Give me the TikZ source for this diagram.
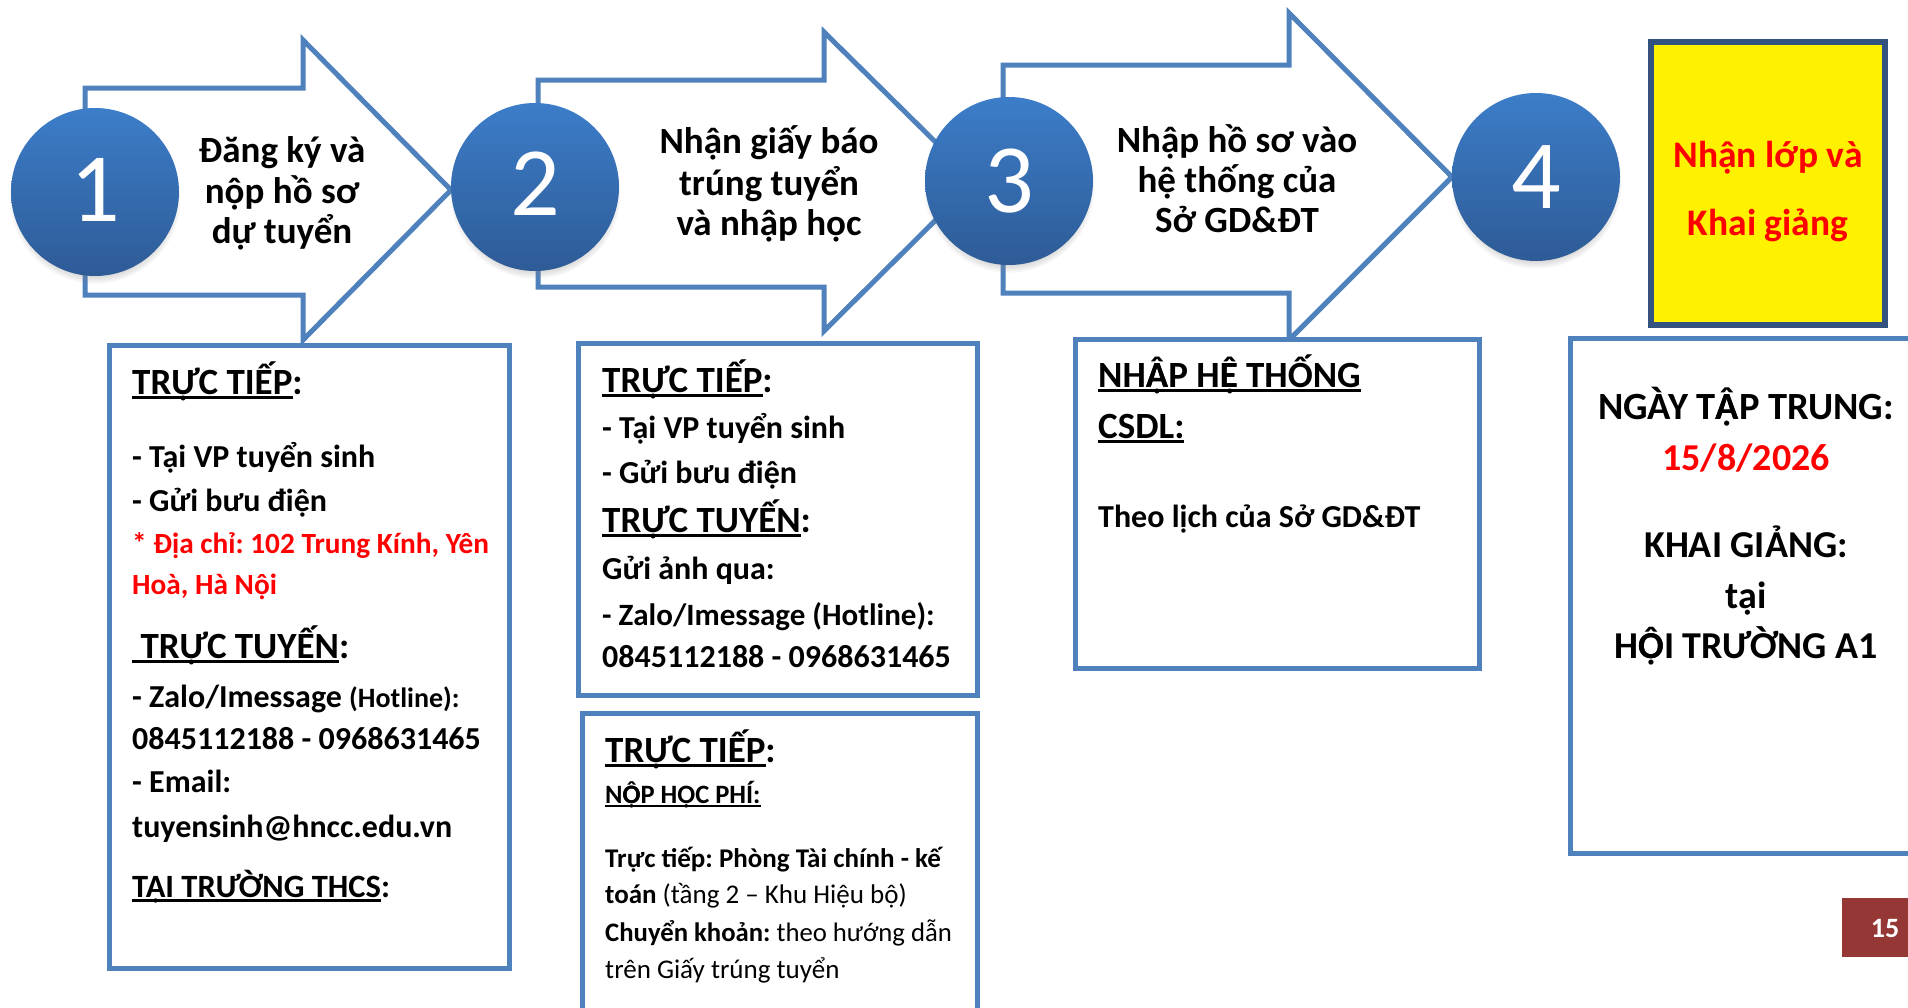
\documentclass[tikz,border=0pt]{standalone}
\usepackage{fontspec}
\setmainfont{Carlito}
\usetikzlibrary{shadows}
\definecolor{ablue}{RGB}{79,129,189}
\definecolor{ctop}{RGB}{60,125,201}
\definecolor{cbot}{RGB}{46,91,150}
\definecolor{ynavy}{RGB}{52,82,128}
\definecolor{pred}{RGB}{149,55,53}
\definecolor{tred}{RGB}{255,0,0}
\newcommand\myul[1]{\setbox0=\hbox{#1}\rlap{\rule[-0.14em]{\wd0}{0.075em}}\box0}
\newcommand\vAcd{\ooalign{Ạ\cr Â\cr}}
\newcommand\vEcd{\ooalign{Ẹ\cr Ê\cr}}
\newcommand\vOcd{\ooalign{Ọ\cr Ô\cr}}
\tikzset{
  flow/.style={draw=ablue, line width=5pt, fill=white, line join=miter},
  stepcircle/.style={circle, minimum size=168pt, inner sep=0pt, top color=ctop, bottom color=cbot, draw=none, text=white,
     font=\fontsize{98}{98}\selectfont,
     circular drop shadow={shadow xshift=0pt, shadow yshift=-6pt, shadow scale=1.02, opacity=0.45}},
  panel/.style={draw=ablue, line width=5pt, fill=white, rectangle, inner sep=0pt, outer sep=0pt, anchor=north west},
  ln/.style={anchor=base west, inner sep=0pt, font=\bfseries\fontsize{32}{36}\selectfont},
  redln/.style={anchor=base west, inner sep=0pt, text=tred, font=\bfseries\fontsize{29.3}{34}\selectfont},
  hd/.style={anchor=base west, inner sep=0pt, font=\bfseries\fontsize{37}{40}\selectfont},
  sm/.style={anchor=base west, inner sep=0pt, font=\fontsize{27}{30}\selectfont},
  ctr/.style={anchor=base, inner sep=0pt, font=\bfseries\fontsize{37}{40}\selectfont},
  big/.style={anchor=base, inner sep=0pt, font=\bfseries\fontsize{38}{40}\selectfont},
}
\begin{document}
\frenchspacing
\begin{tikzpicture}[x=1pt, y=-1pt]
\useasboundingbox (0,0) rectangle (1908,1007);
\clip (0,0) rectangle (1908,1007);
\fill[white] (0,0) rectangle (1908,1007);

% arrows
\draw[flow] (85,88) -- (303,88) -- (303,40) -- (451,190) -- (303,340) -- (303,295) -- (85,295) -- cycle;
\draw[flow] (538,80) -- (824,80) -- (824,32) -- (975,181) -- (824,331) -- (824,287) -- (538,287) -- cycle;
\draw[flow] (1003,65) -- (1289,65) -- (1289,13) -- (1452,177) -- (1289,340) -- (1289,293) -- (1003,293) -- cycle;

% arrow texts
\node[ctr] (a1a) at (282,162) {Đăng ký và};
\node[ctr] (a1b) at (282,203) {nộp hồ sơ};
\node[ctr] (a1c) at (282,243) {dự tuyển};
\node[ctr] (a2a) at (769,153) {Nhận giấy báo};
\node[ctr] (a2b) at (769,195) {trúng tuyển};
\node[ctr] (a2c) at (769,235) {và nhập học};
\node[ctr] (a3a) at (1237,152) {Nhập hồ sơ vào};
\node[ctr] (a3b) at (1237,192) {hệ thống của};
\node[ctr] (a3c) at (1237,232) {Sở GD\&ĐT};

% circles
\node[stepcircle] (c1) at (95,192) {\raisebox{5pt}{1}};
\node[stepcircle] (c2) at (535,187) {\raisebox{6pt}{2}};
\node[stepcircle] (c3) at (1009,181) {3};
\node[stepcircle] (c4) at (1536,177) {4};

% yellow box
\node[draw=ynavy, line width=6pt, fill=yellow, rectangle, inner sep=0pt, outer sep=0pt, anchor=north west,
      minimum width=234pt, minimum height=283pt] (yb) at (1651,42) {};
\node[ctr, font=\bfseries\fontsize{37.5}{40}\selectfont, text=tred] (y1) at (1768,167) {Nhận lớp và};
\node[ctr, font=\bfseries\fontsize{37.5}{40}\selectfont, text=tred] (y2) at (1768,235) {Khai giảng};

% panel 1
\node[panel, minimum width=400pt, minimum height=623pt] (p1) at (109,345) {};
\node[hd] (p1a) at (132,394) {\myul{TRỰC TIẾP}:};
\node[ln] (p1b) at (132,467) {- Tại VP tuyển sinh};
\node[ln] (p1c) at (132,511) {- Gửi bưu điện};
\node[redln] (p1d) at (132,553) {* Địa chỉ: 102 Trung Kính, Yên};
\node[redln] (p1e) at (132,594) {Hoà, Hà Nội};
\node[hd] (p1f) at (132,658) {\myul{\ TRỰC TUYẾN}:};
\node[ln] (p1g) at (132,707) {- Zalo/Imessage {\fontsize{28}{30}\selectfont(Hotline):}};
\node[ln] (p1h) at (132,749) {0845112188 - 0968631465};
\node[ln] (p1i) at (132,792) {- Email:};
\node[ln] (p1j) at (132,837) {tuyensinh@hncc.edu.vn};
\node[ln, font=\bfseries\fontsize{32.5}{36}\selectfont] (p1k) at (132,897) {\myul{TẠI TRƯỜNG THCS}:};

% panel 2
\node[panel, minimum width=399pt, minimum height=352pt] (p2) at (578,343) {};
\node[hd] (p2a) at (602,392) {\myul{TRỰC TIẾP}:};
\node[ln] (p2b) at (602,438) {- Tại VP tuyển sinh};
\node[ln] (p2c) at (602,483) {- Gửi bưu điện};
\node[hd] (p2d) at (602,532) {\myul{TRỰC TUYẾN}:};
\node[ln] (p2e) at (602,579) {Gửi ảnh qua:};
\node[ln, font=\bfseries\fontsize{31}{36}\selectfont] (p2f) at (602,625) {- Zalo/Imessage (Hotline):};
\node[ln] (p2g) at (602,667) {0845112188 - 0968631465};

% panel 2b
\node[panel, minimum width=395pt, minimum height=320pt] (p3) at (582,713) {};
\node[hd] (p3a) at (605,762) {\myul{TRỰC TIẾP}:};
\node[sm, font=\bfseries\fontsize{26.5}{30}\selectfont] (p3b) at (605,803) {\myul{N\vOcd P HỌC PHÍ:}};
\node[sm] (p3c) at (605,867) {\textbf{Trực tiếp: Phòng Tài chính - kế}};
\node[sm] (p3d) at (605,903) {\textbf{toán} (tầng 2 – Khu Hiệu bộ)};
\node[sm, font=\fontsize{26.7}{30}\selectfont] (p3e) at (605,941) {\textbf{Chuyển khoản:} theo hướng dẫn};
\node[sm] (p3f) at (605,978) {trên Giấy trúng tuyển};

% panel 3
\node[panel, minimum width=404pt, minimum height=329pt] (p4) at (1075,339) {};
\node[hd] (p4a) at (1098,387) {\myul{NH\vAcd P H\vEcd\ THỐNG}};
\node[hd] (p4b) at (1098,438) {\myul{CSDL:}};
\node[ln] (p4c) at (1098,527) {Theo lịch của Sở GD\&ĐT};

% panel 4
\node[panel, minimum width=360pt, minimum height=515pt] (p5) at (1570,338) {};
\node[big, font=\bfseries\fontsize{38.5}{40}\selectfont] (p5a) at (1746,419) {NGÀY T\vAcd P TRUNG:};
\node[big, text=tred] (p5b) at (1746,470) {15/8/2026};
\node[big] (p5c) at (1746,557) {KHAI GIẢNG:};
\node[big] (p5d) at (1746,608) {tại};
\node[big] (p5e) at (1746,658) {H\vOcd I TRƯỜNG A1};

% page number
\node[fill=pred, rectangle, inner sep=0pt, outer sep=0pt, anchor=north west, minimum width=80pt, minimum height=59pt] (pg) at (1842,898) {};
\node[anchor=base, inner sep=0pt, text=white, font=\bfseries\fontsize{28}{30}\selectfont] (pgn) at (1885,937) {15};
\end{tikzpicture}
\end{document}
